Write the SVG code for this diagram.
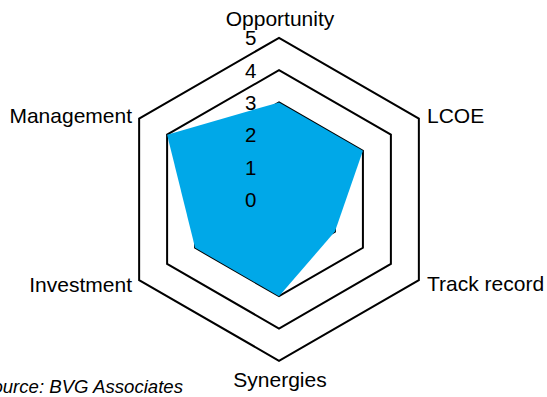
<svg xmlns="http://www.w3.org/2000/svg" width="547" height="397" viewBox="0 0 547 397">
  <style>
    .grid { fill: none; stroke: #000000; stroke-width: 2; stroke-linejoin: miter; }
    .series { fill: #00A8E8; stroke: none; }
    .lbl { font-family: "Liberation Sans", Arial, sans-serif; font-size: 21px; fill: #000000; }
    .tick { font-family: "Liberation Sans", Arial, sans-serif; font-size: 20.5px; fill: #000000; text-anchor: end; }
    .src { font-family: "Liberation Sans", Arial, sans-serif; font-size: 18px; font-style: italic; fill: #000000; }
  </style>
  <rect width="547" height="397" fill="#ffffff"/>
  <g id="grid">
    <polygon class="grid" points="279,167 306.97,183.15 306.97,215.45 279,231.6 251.03,215.45 251.03,183.15"/>
    <polygon class="grid" points="279,134.7 334.94,167 334.94,231.6 279,263.9 223.06,231.6 223.06,167"/>
    <polygon class="grid" points="279,102.4 362.92,150.85 362.92,247.75 279,296.2 195.08,247.75 195.08,150.85"/>
    <polygon class="grid" points="279,70.1 390.89,134.7 390.89,263.9 279,328.5 167.11,263.9 167.11,134.7"/>
    <polygon class="grid" points="279,37.8 418.86,118.55 418.86,280.05 279,360.8 139.14,280.05 139.14,118.55"/>
  </g>
  <g id="series">
    <polygon class="series" points="279,102.4 362.92,150.85 334.94,231.6 279,296.2 195.08,247.75 167.11,134.7"/>
  </g>
  <g id="ticks">
    <text class="tick" x="256.5" y="206.8">0</text>
    <text class="tick" x="256.5" y="174.5">1</text>
    <text class="tick" x="256.5" y="142.2">2</text>
    <text class="tick" x="256.5" y="109.9">3</text>
    <text class="tick" x="256.5" y="77.6">4</text>
    <text class="tick" x="256.5" y="45.3">5</text>
  </g>
  <g id="axis-opportunity"><text class="lbl" x="280" y="26" text-anchor="middle">Opportunity</text></g>
  <g id="axis-lcoe"><text class="lbl" x="427" y="122.7">LCOE</text></g>
  <g id="axis-track-record"><text class="lbl" x="427" y="291">Track record</text></g>
  <g id="axis-synergies"><text class="lbl" x="280" y="387" text-anchor="middle">Synergies</text></g>
  <g id="axis-investment"><text class="lbl" x="132" y="291.7" text-anchor="end">Investment</text></g>
  <g id="axis-management"><text class="lbl" x="132" y="122.7" text-anchor="end">Management</text></g>
  <g id="source"><text class="src" x="-20" y="393.3" textLength="203" lengthAdjust="spacingAndGlyphs">Source: BVG Associates</text></g>
</svg>
